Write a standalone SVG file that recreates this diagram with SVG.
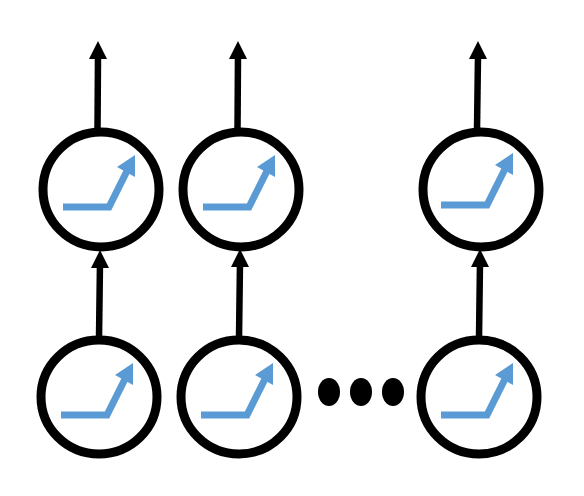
<svg xmlns="http://www.w3.org/2000/svg" width="584" height="496" viewBox="0 0 584 496">
<style>
.c{fill:#fff;stroke:#000;stroke-width:9}
.r{fill:none;stroke:#5b9bd5;stroke-width:7}
.h{fill:#5b9bd5}
.a{stroke:#000;stroke-width:6.500;fill:none}
.t{fill:#000}
</style>
<defs>
<g id="ramp"><path class="r" d="M0 0H46L64 -36"/><path class="h" d="M72 -52L72 -30L54 -40Z"/></g>
<path id="tip" class="t" d="M0 0L9 18H-9Z"/>
</defs>
<g id="connectors">
<path class="a" d="M97.500 130L98 55"/><use href="#tip" x="98" y="41"/>
<path class="a" d="M237.500 130L238 55"/><use href="#tip" x="238" y="41"/>
<path class="a" d="M477 130L478 55"/><use href="#tip" x="478" y="41"/>
<path class="a" d="M99 338L100 262"/><use href="#tip" x="100" y="250"/>
<path class="a" d="M239 338L240 262"/><use href="#tip" x="240" y="249"/>
<path class="a" d="M479 338L480 262"/><use href="#tip" x="480" y="249"/>
</g>
<g id="n1"><ellipse class="c" cx="101" cy="189.500" rx="58" ry="57.500"/><use href="#ramp" x="63" y="207"/></g>
<g id="n2"><ellipse class="c" cx="241" cy="189.500" rx="58" ry="57.500"/><use href="#ramp" x="203" y="207"/></g>
<g id="n3"><ellipse class="c" cx="481" cy="189.500" rx="58" ry="57.500"/><use href="#ramp" x="441" y="205"/></g>
<g id="n4"><ellipse class="c" cx="99" cy="397" rx="58" ry="57"/><use href="#ramp" x="61" y="415"/></g>
<g id="n5"><ellipse class="c" cx="239" cy="397" rx="58" ry="57"/><use href="#ramp" x="201" y="415"/></g>
<g id="n6"><ellipse class="c" cx="479" cy="397" rx="58" ry="57"/><use href="#ramp" x="441" y="415"/></g>
<g id="dots" class="t"><ellipse cx="329" cy="392" rx="11" ry="14"/><ellipse cx="361" cy="392" rx="11" ry="14"/><ellipse cx="393" cy="392" rx="11" ry="14"/></g>
</svg>
